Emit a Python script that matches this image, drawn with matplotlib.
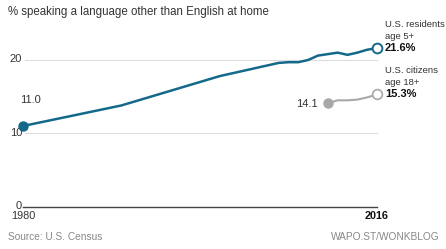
import matplotlib
matplotlib.use("Agg")
from matplotlib import pyplot as plt

plt.rcParams['font.family'] = ['Liberation Sans', 'DejaVu Sans']

# U.S. residents age 5+ speaking a language other than English at home (%)
anios_res = [1980, 1990, 2000, 2006, 2007, 2008, 2009, 2010, 2011, 2012, 2013, 2014, 2015, 2016]
valores_res = [11.0, 13.8, 17.8, 19.6, 19.7, 19.7, 20.0, 20.6, 20.8, 21.0, 20.7, 21.0, 21.4, 21.6]

# U.S. citizens age 18+
anios_ciu = [2011, 2012, 2013, 2014, 2015, 2016]
valores_ciu = [14.1, 14.5, 14.5, 14.6, 14.9, 15.3]

ticks_y = [0, 10, 20]

azul = '#14698a'
gris = '#a8a8a8'

fig = plt.figure(figsize=(4.46, 2.49), dpi=100)
ax = fig.add_axes([23/446, 42.3/249, 354/446, 183.4/249])
ax.set_xlim(1980, 2016)
ax.set_ylim(0, 25)
ax.axis('off')

# lineas de la grilla
for t in ticks_y:
    if t == 0:
        ax.plot([1980, 2016], [0, 0], color='#444444', lw=1.0, clip_on=False, zorder=1)
    else:
        ax.plot([1980.2, 2016], [t, t], color='#dddddd', lw=0.8, clip_on=False, zorder=1)
    ax.text(1979.9, t + 0.1, str(t), ha='right', va='center', fontsize=8, color='#333333')

ax.plot(anios_res, valores_res, color=azul, lw=1.8, clip_on=False, zorder=3,
        solid_capstyle='round', solid_joinstyle='round')
ax.plot(anios_ciu, valores_ciu, color=gris, lw=1.5, clip_on=False, zorder=3,
        solid_capstyle='round', solid_joinstyle='round')

# puntos inicial y final
ax.plot(anios_res[0], valores_res[0], 'o', color=azul, ms=6.5, clip_on=False, zorder=4)
ax.plot(anios_res[-1], valores_res[-1], 'o', mfc='white', mec=azul, mew=1.4, ms=7, clip_on=False, zorder=4)
ax.plot(anios_ciu[0], valores_ciu[0], 'o', color=gris, ms=6.5, clip_on=False, zorder=4)
ax.plot(anios_ciu[-1], valores_ciu[-1], 'o', mfc='white', mec=gris, mew=1.2, ms=7, clip_on=False, zorder=4)

ax.text(1980.8, 14.5, '%.1f' % valores_res[0], ha='center', va='center', fontsize=8, color='#333333')
ax.text(2010.0, valores_ciu[0] - 0.1, '%.1f' % valores_ciu[0], ha='right', va='center', fontsize=8, color='#333333')

# etiquetas a la derecha
ax.text(2016.8, 24.9, 'U.S. residents', ha='left', va='center', fontsize=6.8, color='#333333', clip_on=False)
ax.text(2016.8, 23.2, 'age 5+', ha='left', va='center', fontsize=6.8, color='#333333', clip_on=False)
ax.text(2016.8, valores_res[-1], '%.1f%%' % valores_res[-1], ha='left', va='center', fontsize=8,
        fontweight='bold', color='#111111', clip_on=False)
ax.text(2016.8, 18.6, 'U.S. citizens', ha='left', va='center', fontsize=6.8, color='#333333', clip_on=False)
ax.text(2016.8, 16.9, 'age 18+', ha='left', va='center', fontsize=6.8, color='#333333', clip_on=False)
ax.text(2016.8, valores_ciu[-1], '%.1f%%' % valores_ciu[-1], ha='left', va='center', fontsize=8,
        fontweight='bold', color='#111111', clip_on=False)

# eje x
ax.text(1980, -1.3, '1980', ha='center', va='center', fontsize=7.8, color='#333333')
ax.text(2016, -1.3, '2016', ha='center', va='center', fontsize=7.8, fontweight='bold', color='#111111')

fig.text(8/446, 1 - 12/249, '% speaking a language other than English at home', ha='left', va='center',
         fontsize=8.3, color='#333333')
fig.text(8/446, 1 - 237/249, 'Source: U.S. Census', ha='left', va='center', fontsize=7.3, color='#888888')
fig.text(440/446, 1 - 237/249, 'WAPO.ST/WONKBLOG', ha='right', va='center', fontsize=7.3, color='#888888')

fig.savefig('out.png', dpi=100)
